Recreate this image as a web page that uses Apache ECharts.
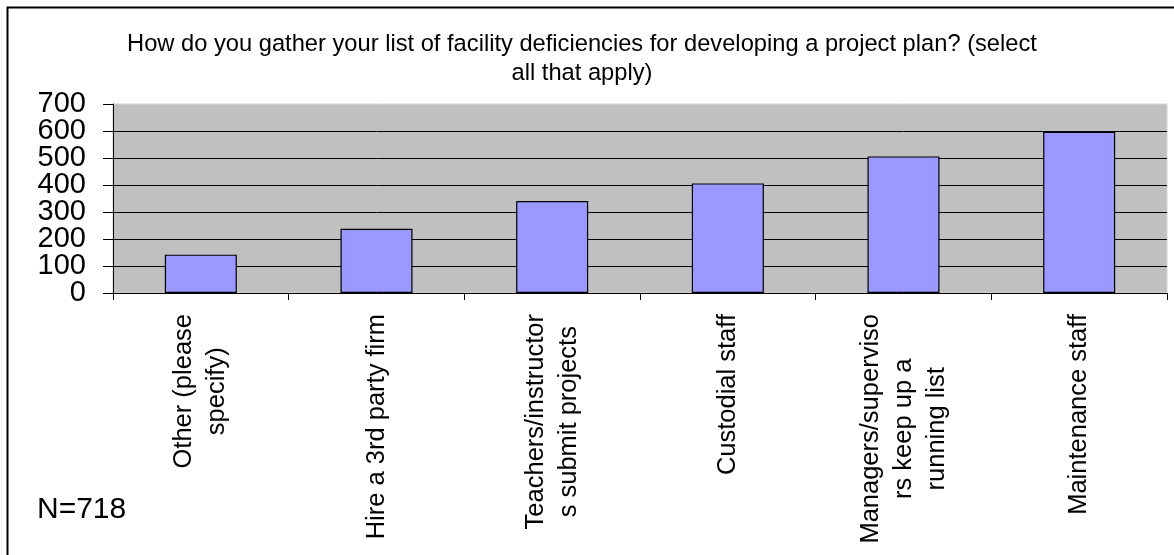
<!DOCTYPE html>
<html>
<head>
<meta charset="utf-8">
<title>Facility deficiencies</title>
<script src="https://cdn.jsdelivr.net/npm/echarts@6/dist/echarts.min.js"></script>
<style>
  html, body { margin: 0; padding: 0; background: #fff; }
  #chart { width: 1174px; height: 555px; }
</style>
</head>
<body>
<div id="chart"></div>
<script>
// categories as laid out on the original axis (line breaks kept)
let categories = [
  'Other (please\nspecify)',
  'Hire a 3rd party firm',
  'Teachers/instructor\ns submit projects',
  'Custodial staff',
  'Managers/superviso\nrs keep up a\nrunning list',
  'Maintenance staff'
];
let responses = [142, 238, 341, 406, 506, 597];
let yMin = 0;
let yMax = 700;
let yStep = 100;
let titleLines = [
  'How do you gather your list of facility deficiencies for developing a project plan? (select',
  'all that apply)'
];
let sampleNote = 'N=718';

let font = '"Liberation Sans", Arial, sans-serif';
let chart = echarts.init(document.getElementById('chart'));

// the tick labels sit so close together that echarts drops some of them,
// so even and odd hundreds are drawn by two axes sharing the same scale
function valueAxis (odd) {
  return {
    type: 'value',
    position: 'left',
    min: yMin,
    max: yMax,
    interval: yStep,
    axisLine: { show: !odd, lineStyle: { color: '#000', width: 1 } },
    axisTick: { show: !odd, length: 10, lineStyle: { color: '#000' } },
    splitLine: {
      show: !odd,
      showMinLine: false,
      showMaxLine: false,
      lineStyle: { color: '#000', width: 1 }
    },
    axisLabel: {
      margin: 27,
      showMinLabel: true,
      showMaxLabel: true,
      color: '#000',
      fontFamily: font,
      fontSize: 29,
      formatter: (val) => ((val / yStep) % 2 === 1) === odd ? String(val) : ''
    }
  };
}

let option = {
  animation: false,
  backgroundColor: '#fff',
  grid: {
    left: 113,
    right: 7,
    top: 104,
    bottom: 262,
    show: true,
    backgroundColor: '#c0c0c0',
    borderColor: '#d4d4d4',
    borderWidth: 1,
    outerBoundsMode: 'none'
  },
  xAxis: {
    type: 'category',
    data: categories,
    axisLine: { lineStyle: { color: '#000', width: 1 } },
    axisTick: { show: true, length: 7, lineStyle: { color: '#000' } },
    splitLine: { show: false },
    axisLabel: {
      interval: 0,
      rotate: 90,
      margin: 21,
      color: '#000',
      fontFamily: font,
      fontSize: 25.5,
      lineHeight: 33,
      formatter: (val) => val.split('\n').map(s => '{c|' + s + '}').join('\n'),
      rich: {
        c: { align: 'center', fontFamily: font, fontSize: 25.5, lineHeight: 33, color: '#000' }
      }
    }
  },
  yAxis: [valueAxis(false), valueAxis(true)],
  series: [{
    type: 'bar',
    yAxisIndex: 0,
    data: responses,
    barWidth: '41%',
    itemStyle: { color: '#9999ff', borderColor: '#000', borderWidth: 1.2 }
  }],
  graphic: [
    {
      type: 'rect',
      silent: true,
      shape: { x: 7.5, y: 7.5, width: 1300, height: 700 },
      style: { fill: 'none', stroke: '#000', lineWidth: 2 }
    },
    {
      type: 'text',
      x: 582,
      y: 59,
      style: {
        text: titleLines.join('\n'),
        align: 'center',
        verticalAlign: 'middle',
        fill: '#000',
        font: '23.7px ' + font,
        lineHeight: 29
      }
    },
    {
      type: 'text',
      x: 37,
      y: 510,
      style: {
        text: sampleNote,
        fill: '#000',
        font: '30px ' + font,
        verticalAlign: 'middle'
      }
    }
  ]
};

chart.setOption(option);
</script>
</body>
</html>
